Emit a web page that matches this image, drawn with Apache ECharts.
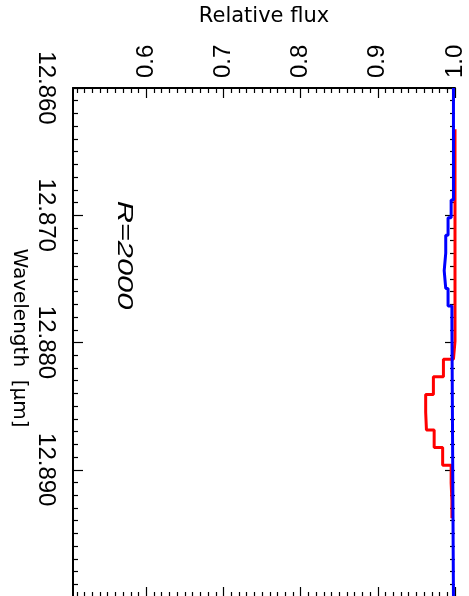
<!DOCTYPE html>
<html>
<head>
<meta charset="utf-8">
<script src="https://cdn.jsdelivr.net/npm/echarts@6/dist/echarts.min.js"></script>
<style>
  html, body { margin: 0; padding: 0; background: #ffffff; }
  #chart { width: 469px; height: 596px; }
</style>
</head>
<body>
<div id="chart"></div>
<script>
// Red spectrum: bin edges (μm) and relative flux per bin
const redEdges = [
  12.86324, 12.86463, 12.86602, 12.86741, 12.86880, 12.87019, 12.87158, 12.87297,
  12.87436, 12.87575, 12.87714, 12.87853, 12.87992, 12.88131, 12.88270, 12.88409,
  12.88548, 12.88687, 12.88826, 12.88965, 12.89104, 12.89243, 12.89382
];
const redFlux = [
  1.000, 1.000, 1.000, 1.000, 1.000, 1.000, 1.000, 1.000,
  1.000, 1.000, 1.000, 1.000, 0.998, 0.985, 0.972, 0.962,
  0.963, 0.973, 0.984, 0.995, 0.996, 0.996
];

// Blue spectrum: bin edges (μm) and relative flux per bin
const blueEdges = [
  12.860, 12.86880, 12.87019, 12.87158, 12.87297, 12.87436, 12.87575, 12.87714, 12.87853, 12.900
];
const blueFlux = [0.998, 0.995, 0.991, 0.988, 0.986, 0.988, 0.991, 0.996, 0.998];

// Axis ticks
const fluxTicks = [0.6, 0.7, 0.8, 0.9, 1.0];
const fluxTickLabels = [0.6, 0.7, 0.8, 0.9];
const fluxEdgeLabel = [1.0];
const waveTicks = [12.86, 12.87, 12.88, 12.89];

// Minor flux ticks every 0.01 between the majors
const fluxMinor = [];
for (let i = 51; i < 100; i++) {
  if (i % 10 !== 0) fluxMinor.push(i / 100);
}

// Turn bin edges + bin values into a stepped outline (flux on x, wavelength on y)
function histogram(edges, values) {
  const pts = [];
  values.forEach((v, i) => {
    pts.push([v, edges[i]]);
    pts.push([v, edges[i + 1]]);
  });
  return pts;
}

const TICK_FONT = 'Liberation Sans';
const tickLine = { color: '#000', width: 1.2 };
const fluxRange = { min: 0.505, max: 1.0 };
const waveRange = { min: 12.86, max: 12.90, interval: 0.01, inverse: true };

const chart = echarts.init(document.getElementById('chart'), null, { renderer: 'canvas' });

chart.setOption({
  animation: false,
  backgroundColor: '#ffffff',
  grid: {
    left: 73, right: 14, top: 88, bottom: -1,
    containLabel: false, outerBoundsMode: 'none', show: false
  },
  xAxis: [
    {
      type: 'value', position: 'top', ...fluxRange,
      axisLine: { show: true, lineStyle: { color: '#000', width: 2 } },
      axisTick: { show: true, inside: true, length: 10, customValues: fluxTicks, lineStyle: tickLine },
      axisLabel: {
        show: true, customValues: fluxTickLabels, rotate: -90, margin: 10,
        color: '#000', fontFamily: TICK_FONT, fontSize: 24,
        formatter: v => v.toFixed(1)
      },
      splitLine: { show: false }
    },
    {
      type: 'value', position: 'top', ...fluxRange,
      axisLine: { show: false },
      axisTick: { show: true, inside: true, length: 5, customValues: fluxMinor, lineStyle: tickLine },
      axisLabel: {
        show: true, customValues: fluxEdgeLabel, rotate: -90, margin: 10, padding: [12, 0, 0, 0],
        color: '#000', fontFamily: TICK_FONT, fontSize: 24,
        formatter: v => v.toFixed(1)
      },
      splitLine: { show: false }
    },
    {
      type: 'value', position: 'bottom', ...fluxRange,
      axisLine: { show: true, lineStyle: { color: '#000', width: 2 } },
      axisTick: { show: true, inside: true, length: 10, customValues: fluxTicks, lineStyle: tickLine },
      axisLabel: { show: false },
      splitLine: { show: false }
    },
    {
      type: 'value', position: 'bottom', ...fluxRange,
      axisLine: { show: false },
      axisTick: { show: true, inside: true, length: 5, customValues: fluxMinor, lineStyle: tickLine },
      axisLabel: { show: false },
      splitLine: { show: false }
    }
  ],
  yAxis: [
    {
      type: 'value', position: 'left', ...waveRange,
      axisLine: { show: true, lineStyle: { color: '#000', width: 2 } },
      axisTick: { show: true, inside: true, length: 10, lineStyle: tickLine },
      minorTick: { show: true, splitNumber: 10, length: 5, lineStyle: tickLine },
      axisLabel: {
        show: true, customValues: waveTicks, rotate: -90, margin: 15,
        color: '#000', fontFamily: TICK_FONT, fontSize: 24,
        formatter: v => v.toFixed(3)
      },
      splitLine: { show: false },
      minorSplitLine: { show: false }
    },
    {
      type: 'value', position: 'right', ...waveRange,
      axisLine: { show: false },
      axisTick: { show: true, inside: true, length: 10, lineStyle: tickLine },
      minorTick: { show: true, splitNumber: 10, length: 5, lineStyle: tickLine },
      axisLabel: { show: false },
      splitLine: { show: false },
      minorSplitLine: { show: false }
    }
  ],
  series: [
    {
      name: 'red', type: 'line', xAxisIndex: 0, yAxisIndex: 0,
      data: histogram(redEdges, redFlux),
      showSymbol: false, symbol: 'none',
      lineStyle: { color: '#ff0000', width: 3 },
      z: 3
    },
    {
      name: 'blue', type: 'line', xAxisIndex: 0, yAxisIndex: 0,
      data: histogram(blueEdges, blueFlux),
      showSymbol: false, symbol: 'none',
      lineStyle: { color: '#0000ff', width: 3 },
      z: 4
    }
  ],
  graphic: [
    {
      type: 'text', x: 264, y: 17,
      style: {
        text: 'Relative flux', font: '21px "DejaVu Sans"', fill: '#000',
        align: 'center', verticalAlign: 'middle'
      }
    },
    {
      type: 'text', x: 19.5, y: 338, rotation: -Math.PI / 2,
      style: {
        text: 'Wavelength  [μm]', font: '20px "DejaVu Sans"', fill: '#000',
        align: 'center', verticalAlign: 'middle'
      }
    },
    {
      type: 'text', x: 124.5, y: 255, rotation: -Math.PI / 2, scaleX: 1.4,
      style: {
        text: 'R=2000', font: 'italic 22px "Liberation Sans"', fill: '#000',
        align: 'center', verticalAlign: 'middle'
      }
    }
  ]
});
</script>
</body>
</html>
